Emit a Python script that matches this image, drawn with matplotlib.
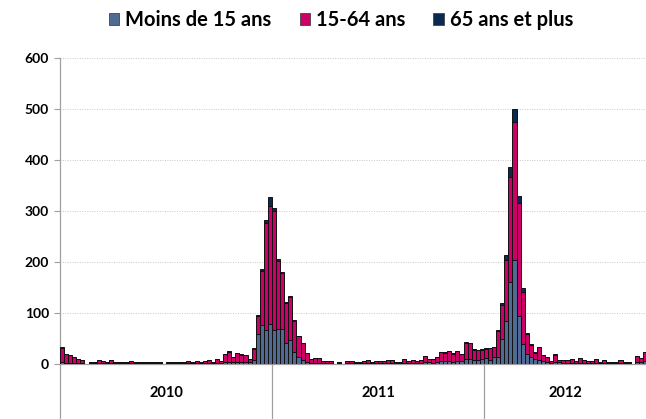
import numpy as np
import matplotlib
matplotlib.use("Agg")
import matplotlib.pyplot as plt
from matplotlib.patches import Patch
import matplotlib.transforms as mtrans

plt.rcParams['font.family'] = ['Lato', 'DejaVu Sans']

N = None
# weekly cases, 2010 (52 weeks), 2011 (52 weeks), 2012 (40 weeks)
moins15 = [3, 2, 2, 2, 1, 1, N, 1, 1, 2, 1, 1, 2, 1, 1, 1, 1, 1, 1, 1, 1, 1, 1, 1, 1, N,
           1, 1, 1, 1, 1, 2, 1, 1, 1, 1, 2, 1, 2, 1, 3, 4, 3, 4, 4, 3, 3, 8, 58, 76, 66, 78,
           66, 69, 68, 42, 47, 23, 13, 8, 4, 2, 2, 2, 1, 1, 1, N, 1, N, 1, 1, 1, 1, 1, 2,
           1, 1, 1, 1, 2, 2, 1, 1, 2, 1, 2, 1, 2, 3, 3, 2, 3, 5, 6, 5, 4, 6, 5, 9, 10, 8, 8, 10,
           11, 7, 13, 14, 49, 85, 160, 203, 95, 40, 20, 13, 10, 7, 5, 4, 2, 4, 3, 2, 2, 2,
           1, 2, 2, 1, 1, 2, 1, 2, 1, 1, 1, 2, 1, 1, N, 3, 4, 5]
ans15_64 = [29, 17, 15, 11, 9, 7, N, 2, 3, 6, 4, 3, 5, 2, 2, 2, 3, 4, 3, 2, 2, 2, 2, 2, 2, N,
            2, 2, 2, 2, 3, 3, 2, 4, 3, 4, 6, 3, 8, 4, 16, 20, 11, 17, 14, 14, 7, 22, 36, 107, 210, 231,
            234, 133, 110, 78, 84, 62, 41, 33, 17, 8, 10, 10, 5, 5, 5, N, 2, N, 4, 4, 3, 3, 4, 6,
            2, 4, 4, 4, 6, 5, 2, 2, 8, 4, 6, 4, 6, 12, 7, 7, 11, 18, 16, 20, 16, 19, 14, 33, 31, 20, 19, 18,
            19, 24, 20, 50, 67, 119, 207, 271, 220, 102, 38, 25, 12, 26, 12, 10, 4, 14, 5, 5, 5, 8,
            4, 9, 5, 4, 4, 8, 3, 6, 2, 2, 2, 6, 2, 2, N, 12, 7, 18]
plus65 = [1, 1, 0, 0, 0, 0, N, 0, 0, 0, 0, 0, 1, 0, 0, 0, 0, 0, 0, 0, 0, 0, 0, 0, 0, N,
          0, 0, 0, 0, 0, 0, 0, 0, 0, 0, 0, 0, 0, 0, 1, 1, 0, 1, 1, 0, 0, 1, 2, 4, 7, 18,
          6, 3, 2, 2, 2, 2, 1, 1, 1, 0, 0, 0, 0, 0, 0, N, 0, N, 0, 0, 0, 0, 0, 0,
          0, 0, 0, 0, 0, 0, 0, 0, 0, 0, 0, 0, 0, 0, 0, 0, 0, 1, 1, 1, 1, 1, 1, 2, 1, 1, 1, 1,
          1, 1, 1, 2, 3, 9, 20, 26, 15, 8, 2, 1, 1, 1, 1, 0, 0, 1, 0, 0, 0, 0,
          0, 0, 0, 0, 0, 0, 0, 0, 0, 0, 0, 0, 0, 0, N, 0, 0, 1]
years = ["2010", "2011", "2012"]
weeks_per_year = [52, 52, 40]
series_names = ["Moins de 15 ans", "15-64 ans", "65 ans et plus"]
colors = ["#4F6B94", "#CC0066", "#0B2A52"]

def arr(v):
    return np.array([np.nan if x is None else float(x) for x in v])

a = arr(moins15)
b = arr(ans15_64)
c = arr(plus65)
x = np.arange(len(a))

fig = plt.figure(figsize=(6.46, 4.19), dpi=100)
ax = fig.add_axes([60/646, 55/419, 587/646, 306/419])

ec = "#111111"
lw = 0.7
ax.bar(x, a, width=1.0, color=colors[0], edgecolor=ec, linewidth=lw, zorder=3)
ax.bar(x, b, width=1.0, bottom=a, color=colors[1], edgecolor=ec, linewidth=lw, zorder=3)
ax.bar(x, c, width=1.0, bottom=a + b, color=colors[2], edgecolor=ec, linewidth=lw, zorder=3)

ax.set_xlim(-0.5, len(a) - 0.5)
ax.set_ylim(0, 600)
ax.set_yticks(np.arange(0, 601, 100))
ax.yaxis.grid(True, linestyle=(0, (1, 1.5)), color="#C8C8C8", linewidth=0.7, zorder=0)
ax.set_axisbelow(True)
for lab in ax.get_yticklabels():
    lab.set_fontweight("bold")
    lab.set_fontsize(10)
ax.tick_params(axis="y", length=4, color="#A0A0A0", width=0.8, pad=4)
ax.set_xticks([])
for s in ["top", "right"]:
    ax.spines[s].set_visible(False)
ax.spines["left"].set_color("#A0A0A0")
ax.spines["bottom"].set_color("#A0A0A0")
ax.spines["left"].set_linewidth(0.9)
ax.spines["bottom"].set_linewidth(0.9)

trans = mtrans.blended_transform_factory(ax.transData, ax.transAxes)
start = -0.5
for yr, n in zip(years, weeks_per_year):
    ax.plot([start, start], [0, -0.185], transform=trans, color="#A0A0A0",
            linewidth=0.9, clip_on=False)
    ax.text(start + n / 2, -0.095, yr, transform=trans, ha="center", va="center",
            fontsize=10.5, fontweight="bold")
    start += n

handles = [Patch(facecolor=col, edgecolor="#444444", linewidth=0.6) for col in colors]
fig.legend(handles, series_names, loc="center", bbox_to_anchor=(0.528, 0.952),
           ncol=3, frameon=False, prop={"weight": "bold", "size": 14.5},
           handlelength=0.5, handleheight=0.5, handletextpad=0.3, columnspacing=1.4)

fig.savefig("out.png", dpi=100)
